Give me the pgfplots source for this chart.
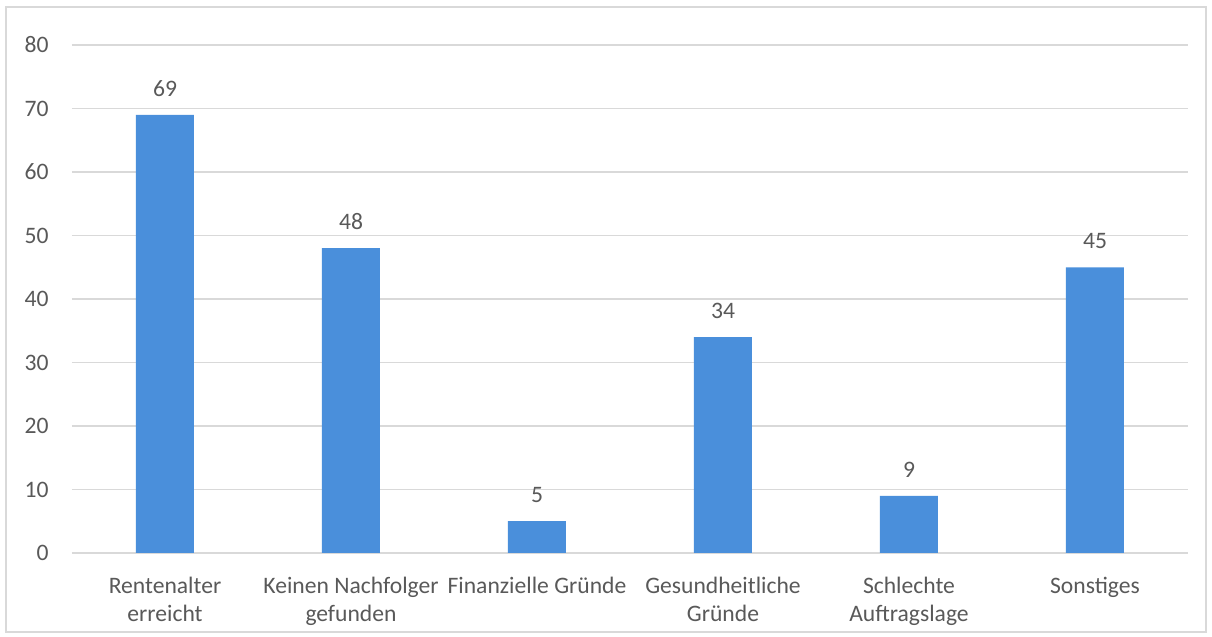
\documentclass[border=0pt]{standalone}
\usepackage{fontspec}
\setmainfont{Carlito}
\usepackage{pgfplots}
\pgfplotsset{compat=1.18}
\definecolor{barblue}{HTML}{4A8FDB}
\definecolor{txtgray}{HTML}{595959}
\definecolor{gridgray}{HTML}{D9D9D9}

\begin{document}
\begin{tikzpicture}
\useasboundingbox (-36pt,-42pt) rectangle (570pt,276.5pt);
\draw[gridgray, line width=0.7pt] (-33pt,-39.5pt) rectangle (567pt,273pt);
\begin{axis}[
  at={(0pt,0pt)}, anchor=south west,
  scale only axis,
  width=558pt, height=254pt,
  ybar, bar width=29pt,
  xmin=-0.5, xmax=5.5,
  ymin=0, ymax=80,
  ytick={0,10,...,80},
  xtick=data,
  xticklabels={Rentenalter\\erreicht, Keinen Nachfolger\\gefunden, Finanzielle Gründe, Gesundheitliche\\Gründe, Schlechte\\Auftragslage, Sonstiges},
  xticklabel style={align=center, font=\fontsize{11.8}{14}\selectfont, text=txtgray, inner sep=0pt, yshift=-12pt},
  yticklabel style={font=\fontsize{11.8}{14}\selectfont, text=txtgray, inner sep=0pt, xshift=-11.5pt},
  /pgf/number format/assume math mode=true,
  major tick length=0pt,
  axis line style={draw=none},
  ymajorgrids=true,
  grid style={gridgray, line width=0.7pt},
  nodes near coords,
  every node near coord/.append style={font=\fontsize{11.8}{14}\selectfont, text=txtgray, inner sep=0pt, yshift=9pt},
  clip=false,
]
\addplot[fill=barblue, draw=none] coordinates {
  (0,69) (1,48) (2,5) (3,34) (4,9) (5,45)
};
\end{axis}
\end{tikzpicture}
\end{document}
